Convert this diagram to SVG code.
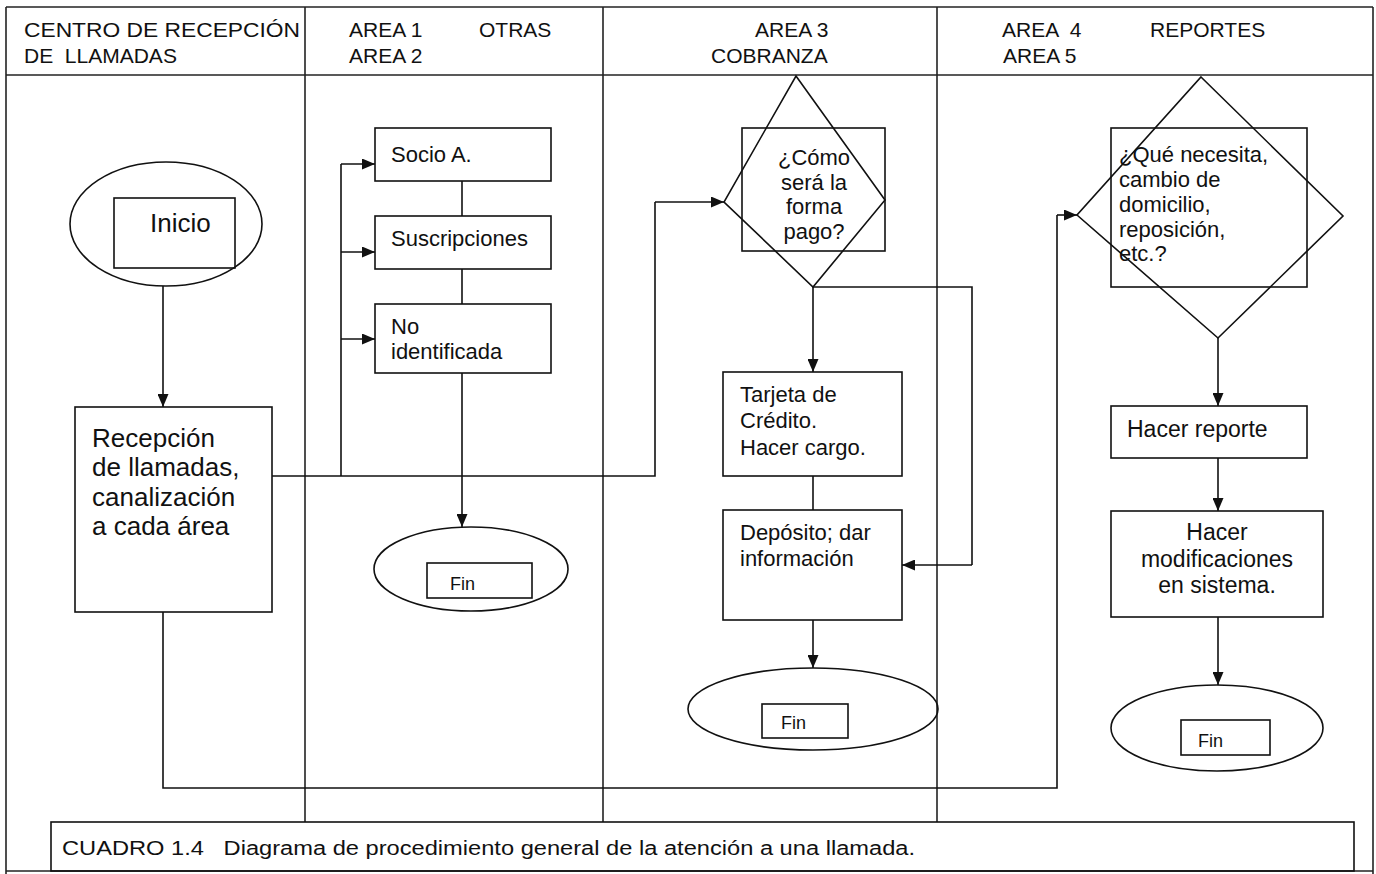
<svg xmlns="http://www.w3.org/2000/svg" width="1376" height="874" viewBox="0 0 1376 874">
<style>
.ln{stroke:#111;stroke-width:1.6;fill:none}
.fr{stroke:#222;stroke-width:1.6;fill:none}
.arr{stroke:#111;stroke-width:1.6;fill:none;marker-end:url(#ah)}
.t{font-family:"Liberation Sans",Arial,sans-serif;fill:#111}
.h{font-size:21px}
.m{text-anchor:middle}
.pre{white-space:pre}
</style>
<defs>
<marker id="ah" viewBox="0 0 13 11" refX="13" refY="5.5" markerWidth="13" markerHeight="11" markerUnits="userSpaceOnUse" orient="auto">
<path d="M0,0 L13,5.5 L0,11 z" fill="#111"/>
</marker>
</defs>
<rect width="1376" height="874" fill="#fff"/>
<g id="frame">
<line class="fr" x1="6" y1="7" x2="1373" y2="7"/>
<line class="fr" x1="6" y1="75" x2="1373" y2="75"/>
<line class="fr" x1="6" y1="7" x2="6" y2="874"/>
<line class="fr" x1="1373" y1="7" x2="1373" y2="874"/>
<line class="fr" x1="6" y1="871" x2="1373" y2="871"/>
<line class="fr" x1="305" y1="7" x2="305" y2="822"/>
<line class="fr" x1="603" y1="7" x2="603" y2="822"/>
<line class="fr" x1="937" y1="7" x2="937" y2="822"/>
</g>
<g id="headers">
<text class="t h" x="24" y="37" textLength="276" lengthAdjust="spacingAndGlyphs">CENTRO DE RECEPCIÓN</text>
<text class="t h pre" x="24" y="63">DE  LLAMADAS</text>
<text class="t h" x="349" y="37">AREA 1</text>
<text class="t h" x="479" y="37">OTRAS</text>
<text class="t h" x="349" y="63">AREA 2</text>
<text class="t h" x="755" y="37">AREA 3</text>
<text class="t h" x="711" y="63">COBRANZA</text>
<text class="t h pre" x="1002" y="37">AREA  4</text>
<text class="t h" x="1150" y="37">REPORTES</text>
<text class="t h" x="1003" y="63">AREA 5</text>
</g>
<g id="connectors">
<line class="arr" x1="163" y1="286" x2="163" y2="407"/>
<polyline class="ln" points="272,476 655,476 655,202"/>
<line class="arr" x1="655" y1="202" x2="724" y2="202"/>
<line class="ln" x1="341" y1="164" x2="341" y2="476"/>
<line class="arr" x1="341" y1="164" x2="375" y2="164"/>
<line class="arr" x1="341" y1="252" x2="375" y2="252"/>
<line class="arr" x1="341" y1="339" x2="375" y2="339"/>
<line class="ln" x1="462" y1="181" x2="462" y2="216"/>
<line class="ln" x1="462" y1="269" x2="462" y2="304"/>
<line class="arr" x1="462" y1="373" x2="462" y2="527"/>
<line class="arr" x1="813" y1="287" x2="813" y2="372"/>
<polyline class="ln" points="813,287 972,287 972,565"/>
<line class="arr" x1="972" y1="565" x2="902" y2="565"/>
<line class="ln" x1="813" y1="476" x2="813" y2="510"/>
<line class="arr" x1="813" y1="620" x2="813" y2="668"/>
<polyline class="ln" points="163,612 163,788 1057,788 1057,215"/>
<line class="arr" x1="1057" y1="215" x2="1077" y2="215"/>
<line class="arr" x1="1218" y1="338" x2="1218" y2="406"/>
<line class="arr" x1="1218" y1="458" x2="1218" y2="511"/>
<line class="arr" x1="1218" y1="617" x2="1218" y2="685"/>
</g>
<g id="inicio">
<ellipse class="ln" cx="166" cy="224" rx="96" ry="62"/>
<rect class="ln" x="114" y="198" width="121" height="70"/>
<text class="t" x="150" y="232" font-size="26">Inicio</text>
</g>
<g id="recepcion">
<rect class="ln" x="75" y="407" width="197" height="205"/>
<text class="t" x="92" font-size="26"><tspan x="92" y="447">Recepción</tspan><tspan x="92" y="476">de llamadas,</tspan><tspan x="92" y="506">canalización</tspan><tspan x="92" y="535">a cada área</tspan></text>
</g>
<g id="socio">
<rect class="ln" x="375" y="128" width="176" height="53"/>
<text class="t" x="391" y="162" font-size="22">Socio A.</text>
</g>
<g id="suscripciones">
<rect class="ln" x="375" y="216" width="176" height="53"/>
<text class="t" x="391" y="246" font-size="22">Suscripciones</text>
</g>
<g id="noident">
<rect class="ln" x="375" y="304" width="176" height="69"/>
<text class="t" font-size="22"><tspan x="391" y="334">No</tspan><tspan x="391" y="359">identificada</tspan></text>
</g>
<g id="fin1">
<ellipse class="ln" cx="471" cy="569" rx="97" ry="42"/>
<rect class="ln" x="427" y="563" width="105" height="35"/>
<text class="t" x="450" y="590" font-size="18">Fin</text>
</g>
<g id="decision-pago">
<polygon class="ln" points="796,76 885,200 813,287 724,202"/>
<rect class="ln" x="742" y="128" width="143" height="123"/>
<text class="t m" font-size="22"><tspan x="814" y="165">¿Cómo</tspan><tspan x="814" y="190">será la</tspan><tspan x="814" y="214">forma</tspan><tspan x="814" y="239">pago?</tspan></text>
</g>
<g id="tarjeta">
<rect class="ln" x="723" y="372" width="179" height="104"/>
<text class="t" font-size="22"><tspan x="740" y="402">Tarjeta de</tspan><tspan x="740" y="428">Crédito.</tspan><tspan x="740" y="455">Hacer cargo.</tspan></text>
</g>
<g id="deposito">
<rect class="ln" x="723" y="510" width="179" height="110"/>
<text class="t" font-size="22"><tspan x="740" y="540">Depósito; dar</tspan><tspan x="740" y="566">información</tspan></text>
</g>
<g id="fin2">
<ellipse class="ln" cx="813" cy="709" rx="125" ry="41"/>
<rect class="ln" x="762" y="704" width="86" height="34"/>
<text class="t" x="781" y="729" font-size="18">Fin</text>
</g>
<g id="decision-reporte">
<polygon class="ln" points="1201,77 1343,216 1218,338 1077,215"/>
<rect class="ln" x="1111" y="128" width="196" height="159"/>
<text class="t" font-size="22"><tspan x="1119" y="162">¿Qué necesita,</tspan><tspan x="1119" y="187">cambio de</tspan><tspan x="1119" y="212">domicilio,</tspan><tspan x="1119" y="237">reposición,</tspan><tspan x="1119" y="261">etc.?</tspan></text>
</g>
<g id="reporte">
<rect class="ln" x="1111" y="406" width="196" height="52"/>
<text class="t" x="1127" y="437" font-size="23">Hacer reporte</text>
</g>
<g id="modificaciones">
<rect class="ln" x="1111" y="511" width="212" height="106"/>
<text class="t m" font-size="23"><tspan x="1217" y="540">Hacer</tspan><tspan x="1217" y="567">modificaciones</tspan><tspan x="1217" y="593">en sistema.</tspan></text>
</g>
<g id="fin3">
<ellipse class="ln" cx="1217" cy="728" rx="106" ry="43"/>
<rect class="ln" x="1181" y="720" width="89" height="35"/>
<text class="t" x="1198" y="747" font-size="18">Fin</text>
</g>
<g id="caption">
<rect class="ln" x="51" y="822" width="1303" height="49"/>
<text class="t pre" x="62" y="855" font-size="20" textLength="853" lengthAdjust="spacingAndGlyphs">CUADRO 1.4   Diagrama de procedimiento general de la atención a una llamada.</text>
</g>
</svg>
